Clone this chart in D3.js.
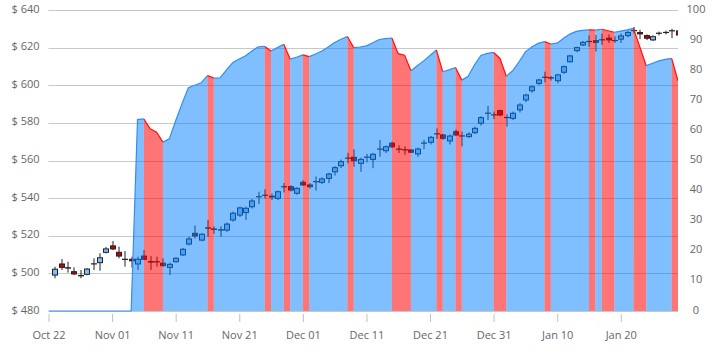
<!DOCTYPE html>
<html>
<head>
<meta charset="utf-8">
<script src="https://cdn.jsdelivr.net/npm/d3@7"></script>
<style>
  body { margin: 0; background: #fff; }
  svg text { font-family: "Open Sans", "Segoe UI", sans-serif; font-size: 11px; fill: #666; }
</style>
</head>
<body>
<svg id="chart" width="720" height="354"></svg>
<script>
// first day of the axis (indicator starts here, candles start one day later)
var axisStart = "2015-10-22",
    axisEnd = "2016-01-29";

var tickDates = ["2015-10-22", "2015-11-01", "2015-11-11", "2015-11-21", "2015-12-01",
                 "2015-12-11", "2015-12-21", "2015-12-31", "2016-01-10", "2016-01-20"];
var priceTicks = [480, 500, 520, 540, 560, 580, 600, 620, 640];
var indicatorTicks = [0, 10, 20, 30, 40, 50, 60, 70, 80, 90, 100];

var open = [
  499.1, 505.0, 503.0, 500.9, 498.9, 499.5, 505.0, 505.7, 511.2, 514.6,
  511.2, 507.5, 507.5, 505.0, 509.2, 506.3, 506.2, 505.4, 503.2, 506.2,
  509.8, 515.6, 521.3, 517.7, 524.2, 523.6, 523.0, 523.0, 528.4, 531.0,
  532.3, 535.4, 540.8, 541.5, 541.0, 539.9, 546.0, 546.1, 542.6, 548.4,
  547.0, 548.7, 548.4, 550.5, 554.0, 557.2, 561.2, 561.7, 558.5, 561.7,
  560.6, 566.0, 565.2, 569.2, 566.1, 565.7, 565.6, 563.5, 569.2, 569.7,
  574.1, 573.6, 570.4, 575.3, 573.1, 572.7, 574.8, 579.8, 585.1, 584.3,
  586.5, 582.9, 582.4, 586.9, 592.2, 597.1, 601.0, 604.2, 604.0, 602.4,
  606.9, 612.5, 618.4, 621.4, 623.2, 623.7, 624.1, 625.0, 623.8, 624.5,
  626.4, 629.0, 628.0, 626.4, 624.1, 627.6, 628.0, 628.9, 628.9
];
var high = [
  503.5, 507.6, 506.2, 503.2, 501.8, 502.8, 508.0, 510.7, 514.0, 517.2,
  514.2, 511.9, 508.9, 508.9, 512.4, 509.2, 508.9, 508.0, 505.7, 508.6,
  513.5, 519.5, 525.5, 521.5, 528.4, 525.0, 525.0, 527.0, 532.8, 535.5,
  535.5, 539.5, 543.4, 544.7, 542.5, 544.0, 548.0, 546.8, 545.8, 549.5,
  548.0, 551.5, 551.0, 553.5, 557.0, 560.5, 564.0, 566.0, 561.5, 563.5,
  564.0, 570.9, 568.0, 570.0, 568.0, 567.5, 566.0, 566.8, 571.0, 573.0,
  577.0, 574.2, 573.8, 576.5, 575.3, 575.0, 578.0, 583.5, 589.0, 586.0,
  587.0, 584.5, 586.0, 590.5, 595.5, 600.0, 603.5, 607.2, 605.0, 606.0,
  610.5, 616.2, 620.5, 623.5, 626.5, 626.7, 627.5, 627.0, 626.0, 627.5,
  629.0, 631.0, 629.5, 627.0, 626.5, 628.5, 629.0, 630.0, 629.5
];
var low = [
  497.4, 501.8, 500.4, 499.1, 497.4, 499.0, 501.8, 501.4, 510.6, 512.4,
  508.0, 503.6, 503.0, 501.8, 507.1, 501.8, 503.6, 503.6, 499.1, 505.7,
  509.2, 514.8, 518.6, 517.0, 519.5, 521.0, 519.5, 522.0, 527.5, 530.0,
  528.4, 534.5, 536.9, 539.9, 539.0, 539.0, 543.0, 543.5, 541.8, 546.5,
  545.0, 544.0, 547.5, 548.0, 552.0, 556.0, 558.5, 556.7, 554.0, 559.0,
  555.9, 562.0, 564.0, 566.5, 564.0, 563.0, 564.0, 562.0, 566.0, 568.5,
  571.5, 571.0, 568.5, 573.0, 567.5, 572.0, 574.0, 578.5, 581.5, 582.0,
  583.5, 578.0, 581.5, 585.5, 591.0, 596.0, 600.0, 601.5, 602.5, 601.0,
  606.0, 612.0, 617.5, 620.8, 620.5, 617.9, 621.5, 622.5, 622.5, 622.5,
  625.5, 627.5, 624.5, 624.0, 623.5, 626.5, 627.0, 625.0, 626.0
];
var close = [
  502.2, 503.2, 502.8, 499.7, 498.7, 502.3, 505.1, 508.3, 513.0, 513.0,
  509.2, 507.4, 506.7, 507.5, 507.5, 506.0, 506.1, 504.1, 504.8, 508.0,
  512.8, 518.3, 519.9, 520.8, 524.0, 523.4, 523.2, 526.2, 532.0, 534.8,
  534.6, 538.5, 540.7, 541.6, 540.6, 543.4, 546.1, 544.3, 545.2, 547.0,
  546.1, 548.8, 550.2, 552.8, 556.2, 559.4, 561.3, 559.9, 560.6, 561.8,
  563.3, 566.1, 567.3, 567.3, 566.0, 565.6, 564.4, 566.1, 569.3, 572.3,
  574.2, 571.8, 573.0, 573.6, 573.0, 574.0, 577.1, 582.8, 585.2, 584.2,
  584.2, 582.8, 585.1, 589.5, 594.8, 599.2, 602.8, 604.3, 603.8, 605.5,
  609.9, 615.6, 620.0, 622.8, 623.3, 622.8, 624.2, 624.1, 623.7, 626.2,
  628.0, 629.1, 627.3, 625.0, 625.8, 627.7, 628.1, 629.0, 626.7
];
// secondary axis series, one value per day from axisStart
var indicator = [
  0, 0, 0, 0, 0, 0, 0, 0, 0, 0, 0, 0, 0, 0,
  63.6, 63.8, 60.5, 59.4, 56.1, 57.2, 63.2, 68.9, 74.2, 75.0,
  75.8, 78.2, 77.4, 77.5, 80.1, 82.6, 83.7, 84.8, 86.4, 87.8,
  87.9, 86.4, 87.5, 88.6, 83.7, 84.3, 85.1, 84.5, 85.4, 86.4,
  87.7, 89.2, 90.3, 91.2, 87.5, 87.7, 88.1, 89.1, 90.2, 90.5,
  90.7, 85.5, 85.0, 79.8, 81.5, 83.1, 84.9, 86.7, 79.5, 80.1,
  80.9, 76.7, 78.0, 81.8, 84.9, 85.6, 85.9, 83.9, 78.0, 79.8,
  82.8, 86.1, 87.7, 88.9, 89.5, 88.7, 89.0, 90.6, 92.0, 92.9,
  93.2, 93.4, 93.3, 93.6, 93.1, 92.6, 93.0, 93.4, 93.9, 87.7,
  81.5, 82.3, 83.1, 83.6, 83.9, 76.5
];

var parse = d3.timeParse("%Y-%m-%d");
var day0 = parse(axisStart);

var margin = { top: 10, right: 42, bottom: 43, left: 48.5 },
    width = 720 - margin.left - margin.right,
    height = 354 - margin.top - margin.bottom;

var svg = d3.select("#chart");
var g = svg.append("g")
  .attr("transform", "translate(" + margin.left + "," + margin.top + ")");

var x = d3.scaleTime()
  .domain([day0, parse(axisEnd)])
  .range([0, width]);
var yPrice = d3.scaleLinear().domain([480, 640]).range([height, 0]);
var yInd = d3.scaleLinear().domain([0, 100]).range([height, 0]);

svg.append("defs").append("clipPath").attr("id", "plot")
  .append("rect").attr("width", width).attr("height", height + 2).attr("y", -1);

// gridlines
g.selectAll(".grid")
  .data(priceTicks)
  .enter().append("line")
  .attr("x1", 0).attr("x2", width)
  .attr("y1", function(d) { return Math.round(yPrice(d)) + 0.5; })
  .attr("y2", function(d) { return Math.round(yPrice(d)) + 0.5; })
  .attr("stroke", "#c8c8c8");

// candles (drawn under the translucent area)
var candles = open.map(function(o, i) {
  return { date: d3.timeDay.offset(day0, i + 1), o: o, h: high[i], l: low[i], c: close[i] };
});
var bw = 5;
var cg = g.append("g").attr("clip-path", "url(#plot)");
var candle = cg.selectAll(".candle")
  .data(candles)
  .enter().append("g");
candle.append("line")
  .attr("x1", function(d) { return Math.round(x(d.date)) + 0.5; })
  .attr("x2", function(d) { return Math.round(x(d.date)) + 0.5; })
  .attr("y1", function(d) { return yPrice(d.h); })
  .attr("y2", function(d) { return yPrice(d.l); })
  .attr("stroke", "#222");
candle.append("rect")
  .attr("x", function(d) { return Math.round(x(d.date)) + 0.5 - bw / 2; })
  .attr("y", function(d) { return yPrice(Math.max(d.o, d.c)); })
  .attr("width", bw)
  .attr("height", function(d) { return Math.max(0.1, Math.abs(yPrice(d.o) - yPrice(d.c))); })
  .attr("fill", function(d) { return d.c >= d.o ? "#80bfff" : "#c40000"; })
  .attr("stroke", "#222");

// indicator area, split into rising / falling runs
var pts = indicator.map(function(v, i) {
  return { x: x(d3.timeDay.offset(day0, i)), y: yInd(v) };
});
var runs = [];
for (var i = 0; i < pts.length - 1; i++) {
  var down = indicator[i + 1] < indicator[i];
  var last = runs[runs.length - 1];
  if (last && last.down === down) last.pts.push(pts[i + 1]);
  else runs.push({ down: down, pts: [pts[i], pts[i + 1]] });
}
var area = d3.area().x(function(d) { return d.x; }).y0(height).y1(function(d) { return d.y; });
var line = d3.line().x(function(d) { return d.x; }).y(function(d) { return d.y; });
var ag = g.append("g").attr("clip-path", "url(#plot)");
ag.selectAll(".run")
  .data(runs)
  .enter().append("path")
  .attr("d", function(d) { return area(d.pts); })
  .attr("fill", function(d) { return d.down ? "rgba(255,0,0,0.54)" : "rgba(0,128,255,0.5)"; });
ag.selectAll(".runline")
  .data(runs)
  .enter().append("path")
  .attr("d", function(d) { return line(d.pts); })
  .attr("fill", "none")
  .attr("stroke-width", 1.2)
  .attr("stroke", function(d) { return d.down ? "#ff1010" : "#2f8ff0"; });

// axes
var leftAxis = g.append("g")
  .call(d3.axisLeft(yPrice).tickValues(priceTicks).tickSize(0).tickPadding(9)
    .tickFormat(function(d) { return "$ " + d; }));
leftAxis.select(".domain").remove();
leftAxis.selectAll("text").attr("y", -1.5);

var rightAxis = g.append("g")
  .attr("transform", "translate(" + width + ",0)")
  .call(d3.axisRight(yInd).tickValues(indicatorTicks).tickSize(0).tickPadding(0));
rightAxis.select(".domain").remove();
rightAxis.selectAll("text").attr("x", 18).attr("y", -1.5).style("text-anchor", "middle");

var bottomAxis = g.append("g")
  .attr("transform", "translate(0," + (height + 3) + ")")
  .call(d3.axisBottom(x).tickValues(tickDates.map(parse)).tickSize(8).tickPadding(9)
    .tickFormat(d3.timeFormat("%b %d")));
bottomAxis.select(".domain").remove();
bottomAxis.selectAll(".tick line").attr("stroke", "#c0c0c0");
</script>
</body>
</html>
